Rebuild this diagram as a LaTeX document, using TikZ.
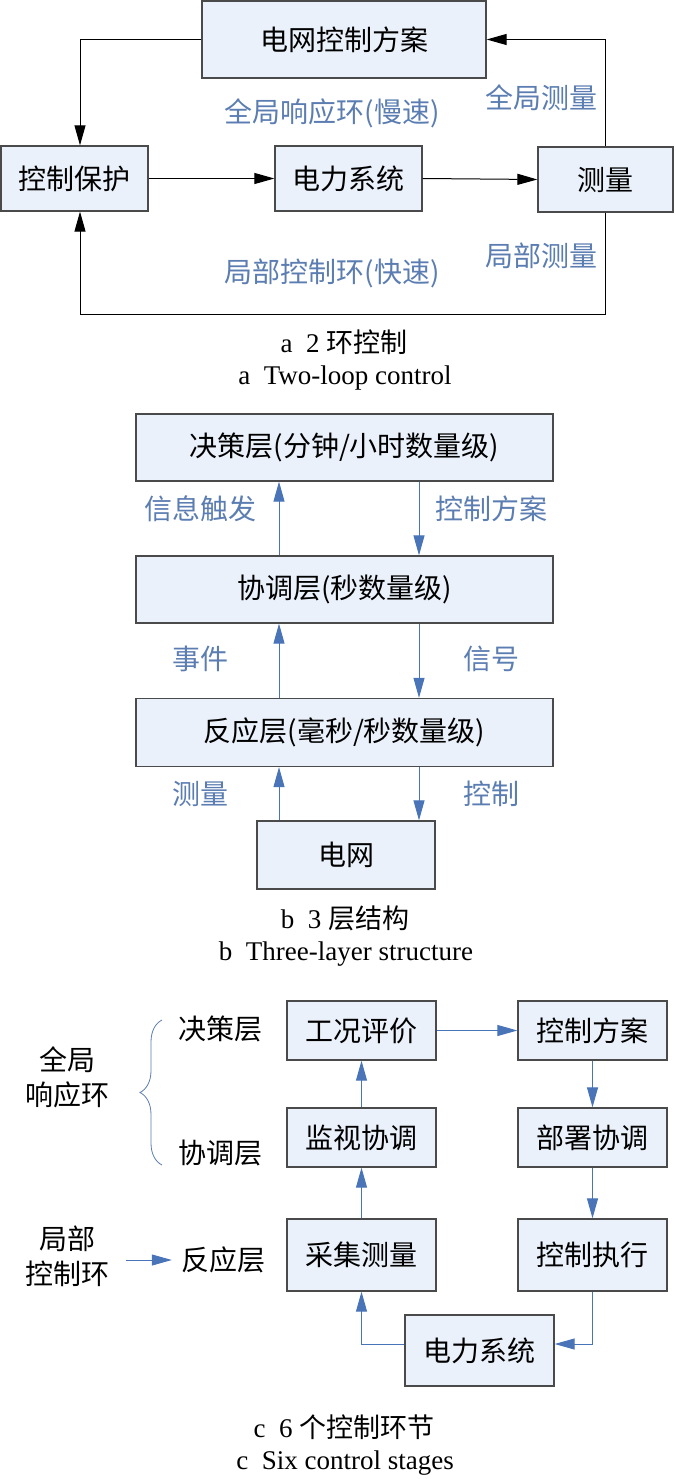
\documentclass[tikz,border=0pt]{standalone}
\usepackage{fontspec}
\setmainfont{Liberation Serif}
\newfontfamily\cjk{Noto Sans CJK SC}
\usetikzlibrary{arrows.meta,decorations.pathreplacing}

\definecolor{boxfill}{HTML}{EAF1FA}
\definecolor{boxline}{HTML}{4A4A4A}
\definecolor{labblue}{HTML}{5B7DB1}
\definecolor{arrblue}{HTML}{4A74B8}

\tikzset{
	stagebox/.style={draw=boxline, fill=boxfill, line width=1.3pt, inner sep=0pt,
		font=\cjk\fontsize{28}{34}\selectfont},
	bluelab/.style={text=labblue, inner sep=0pt, font=\cjk\fontsize{28}{34}\selectfont},
	blacklab/.style={inner sep=0pt, align=center, font=\cjk\fontsize{28}{35}\selectfont},
	caption/.style={inner sep=0pt, font=\fontsize{27}{30}\selectfont},
	karr/.style={line width=1pt, -{Triangle[length=20pt,width=11pt]}},
	barr/.style={arrblue, line width=1pt, -{Triangle[length=20pt,width=11pt]}},
}

\begin{document}
\begin{tikzpicture}[x=1pt, y=-1pt]
	\useasboundingbox (0,0) rectangle (675,1479);

	% a: two-loop control
	\node[stagebox, minimum width=284pt, minimum height=77pt] (plan) at (344,39.5) {电网控制方案};
	\node[stagebox, minimum width=147pt, minimum height=65pt] (prot) at (74.5,178.5) {控制保护};
	\node[stagebox, minimum width=147pt, minimum height=65pt] (psys) at (348.5,178.5) {电力系统};
	\node[stagebox, minimum width=135pt, minimum height=65pt] (meas) at (605.5,179.5) {测量};
	\coordinate (la) at (80,0);
	\coordinate (lb) at (80,314);
	\draw[karr] (prot.east) -- (psys.west);
	\draw[karr] (psys.east) -- (meas.west);
	\draw[karr] (plan.west) -| (la |- prot.north);
	\draw[karr] (meas.north) |- (plan.east);
	\draw[karr] (meas.south) |- (lb) -- (la |- prot.south);
	\node[bluelab] (slow) at (332,113) {全局响应环(慢速)};
	\node[bluelab] (gmeas) at (541,98) {全局测量};
	\node[bluelab] (lmeas) at (541,256) {局部测量};
	\node[bluelab] (fast) at (332,273) {局部控制环(快速)};
	\node[caption] (capa1) at (344,342) {a\ \ 2 {\cjk 环控制}};
	\node[caption] (capa2) at (345,378) {a\ \ Two-loop control};

	% b: three-layer structure
	\node[stagebox, minimum width=417pt, minimum height=67pt] (dec) at (344.5,447.5) {决策层(分钟/小时数量级)};
	\node[stagebox, minimum width=417pt, minimum height=67pt] (coo) at (344.5,589.5) {协调层(秒数量级)};
	\node[stagebox, minimum width=417pt, minimum height=68pt] (rea) at (344.5,732.5) {反应层(毫秒/秒数量级)};
	\node[stagebox, minimum width=178pt, minimum height=68pt] (grid) at (346,855) {电网};
	\coordinate (bu) at (279,0);
	\coordinate (bd) at (419,0);
	\draw[barr] (bu |- coo.north) -- (bu |- dec.south);
	\draw[barr] (bd |- dec.south) -- (bd |- coo.north);
	\draw[barr] (bu |- rea.north) -- (bu |- coo.south);
	\draw[barr] (bd |- coo.south) -- (bd |- rea.north);
	\draw[barr] (bu |- grid.north) -- (bu |- rea.south);
	\draw[barr] (bd |- rea.south) -- (bd |- grid.north);
	\node[bluelab] (trig) at (200,509) {信息触发};
	\node[bluelab] (cplan) at (491,509) {控制方案};
	\node[bluelab] (event) at (200,659) {事件};
	\node[bluelab] (signal) at (491,659) {信号};
	\node[bluelab] (bmeas) at (200,794) {测量};
	\node[bluelab] (bctrl) at (491,794) {控制};
	\node[caption] (capb1) at (345,918) {b\ \ 3 {\cjk 层结构}};
	\node[caption] (capb2) at (346,954) {b\ \ Three-layer structure};

	% c: six control stages
	\node[stagebox, minimum width=149pt, minimum height=59pt] (eval) at (361.5,1030.5) {工况评价};
	\node[stagebox, minimum width=149pt, minimum height=59pt] (cplan2) at (592.5,1030.5) {控制方案};
	\node[stagebox, minimum width=149pt, minimum height=59pt] (mon) at (361.5,1137.5) {监视协调};
	\node[stagebox, minimum width=149pt, minimum height=59pt] (depl) at (592.5,1137.5) {部署协调};
	\node[stagebox, minimum width=149pt, minimum height=72pt] (coll) at (361.5,1255) {采集测量};
	\node[stagebox, minimum width=149pt, minimum height=72pt] (exec) at (592.5,1255) {控制执行};
	\node[stagebox, minimum width=149pt, minimum height=71pt] (psys2) at (479.5,1350.5) {电力系统};
	\draw[barr] (eval.east) -- (cplan2.west);
	\draw[barr] (cplan2.south) -- (depl.north);
	\draw[barr] (depl.south) -- (exec.north);
	\draw[barr] (exec.south) |- ([yshift=6.5pt]psys2.east);
	\draw[barr] ([yshift=6.5pt]psys2.west) -| (coll.south);
	\draw[barr] (coll.north) -- (mon.south);
	\draw[barr] (mon.north) -- (eval.south);
	\node[blacklab] (ldec) at (220,1029) {决策层};
	\node[blacklab] (lcoo) at (220,1153) {协调层};
	\node[blacklab] (lrea) at (223,1260) {反应层};
	\node[blacklab] (lglob) at (67,1077.5) {全局\\响应环};
	\node[blacklab] (lloc) at (67,1256) {局部\\控制环};
	\draw[labblue, line width=0.8pt, decorate, decoration={brace, amplitude=22pt}] (162,1165) -- (162,1020);
	\draw[barr] ([xshift=17pt]lloc.east |- lrea) -- ([xshift=-9pt]lrea.west);
	\node[caption] (capc1) at (344,1427) {c\ \ 6 {\cjk 个控制环节}};
	\node[caption] (capc2) at (345,1463) {c\ \ Six control stages};
\end{tikzpicture}
\end{document}
